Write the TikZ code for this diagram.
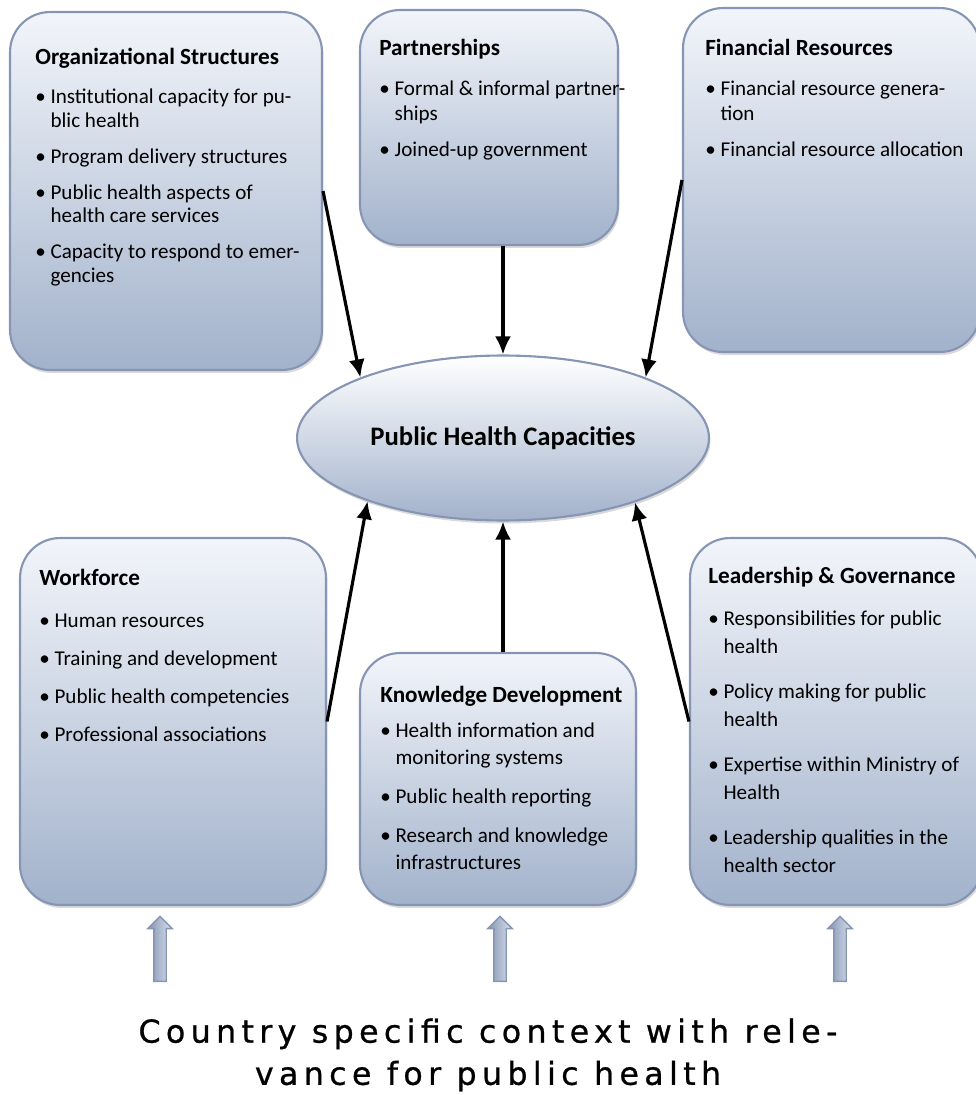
\documentclass[tikz,border=0pt]{standalone}
\usepackage{fontspec}
\setmainfont{Carlito}
\newfontfamily\ctxfont{DejaVu Sans}[LetterSpace=17,FakeBold=0.8]
\usetikzlibrary{arrows.meta,positioning,shapes.geometric,shapes.arrows,shadings,shadows}

\definecolor{boxtop}{HTML}{F2F5FA}
\definecolor{boxmid}{HTML}{D9E1ED}
\definecolor{boxbot}{HTML}{A2B2CB}
\definecolor{boxline}{HTML}{8595B3}

\newcommand{\bu}{\textbullet\ }
\newcommand{\ind}{\hphantom{\textbullet\ }}
\newcommand{\hd}[1]{{\fontsize{13.2}{15}\selectfont\bfseries #1}}

\tikzset{
  capbox/.style={draw=boxline, line width=1.2pt, rounded corners=0.8cm,
    top color=boxtop, middle color=boxmid, bottom color=boxbot,
    drop shadow={opacity=0.3, shadow xshift=0.03cm, shadow yshift=-0.06cm},
    minimum width=#1, inner sep=0pt},
  captxt/.style={anchor=north west, inner sep=0pt, align=left},
  arr/.style={->, line width=1.8pt},
  uparr/.style={single arrow, shape border rotate=90, draw=boxline, line width=0.8pt,
    left color=boxline, middle color=white, right color=boxmid,
    minimum height=1.3cm, inner sep=0pt,
    single arrow head extend=0.12cm, single arrow head indent=0pt}
}

\begin{document}
\begin{tikzpicture}[x=0.02cm,y=-0.02cm,>={Latex[length=0.36cm,width=0.32cm]}]
\clip (0,0) rectangle (976,1095);

% boxes
\node[capbox=6.24cm, minimum height=7.16cm] (org) at (166,191) {};
\node[capbox=5.16cm, minimum height=4.7cm] (part) at (489,127.5) {};
\node[capbox=5.94cm, minimum height=6.88cm] (fin) at (831.5,180) {};
\node[capbox=6.12cm, minimum height=7.34cm] (work) at (173,721.5) {};
\node[capbox=5.52cm, minimum height=5.04cm] (know) at (498,779) {};
\node[capbox=5.84cm, minimum height=7.34cm] (lead) at (836,721.5) {};

% centre
\node[ellipse, draw=boxline, line width=1.2pt, top color=white, middle color=boxmid,
  bottom color=boxbot, minimum width=8.24cm, minimum height=3.3cm, inner sep=0pt,
  drop shadow={opacity=0.3, shadow xshift=0.03cm, shadow yshift=-0.06cm},
  font=\fontsize{15.2}{18}\selectfont\bfseries] (phc) at (503,438) {Public Health Capacities};

% texts
\node[captxt, font=\fontsize{12}{13.5}\selectfont] (orgtxt)
  at ([xshift=0.52cm,yshift=-0.74cm]org.north west)
  {\hd{Organizational Structures}\\[8.5pt]
   \bu Institutional capacity for pu-\\ \ind blic health\\[7pt]
   \bu Program delivery structures\\[7pt]
   \bu Public health aspects of\\ \ind health care services\\[7pt]
   \bu Capacity to respond to emer-\\ \ind gencies};
\node[captxt, font=\fontsize{12}{14.2}\selectfont] (parttxt)
  at ([xshift=0.4cm,yshift=-0.6cm]part.north west)
  {\hd{Partnerships}\\[8.6pt]
   \bu Formal \& informal partner-\\ \ind ships\\[6.3pt]
   \bu Joined-up government};
\node[captxt, font=\fontsize{12}{14.2}\selectfont] (fintxt)
  at ([xshift=0.46cm,yshift=-0.64cm]fin.north west)
  {\hd{Financial Resources}\\[8.6pt]
   \bu Financial resource genera-\\ \ind tion\\[6.3pt]
   \bu Financial resource allocation};
\node[captxt, font=\fontsize{12}{14}\selectfont] (worktxt)
  at ([xshift=0.4cm,yshift=-0.64cm]work.north west)
  {\hd{Workforce}\\[9.9pt]
   \bu Human resources\\[7.6pt]
   \bu Training and development\\[7.6pt]
   \bu Public health competencies\\[7.6pt]
   \bu Professional associations};
\node[captxt, font=\fontsize{12}{15.4}\selectfont] (knowtxt)
  at ([xshift=0.42cm,yshift=-0.68cm]know.north west)
  {\hd{Knowledge Development}\\[4.5pt]
   \bu Health information and\\ \ind monitoring systems\\[6.8pt]
   \bu Public health reporting\\[6.8pt]
   \bu Research and knowledge\\ \ind infrastructures};
\node[captxt, font=\fontsize{12}{15.9}\selectfont] (leadtxt)
  at ([xshift=0.38cm,yshift=-0.6cm]lead.north west)
  {\hd{Leadership \& Governance}\\[7.9pt]
   \bu Responsibilities for public\\ \ind health\\[9.7pt]
   \bu Policy making for public\\ \ind health\\[9.7pt]
   \bu Expertise within Ministry of\\ \ind Health\\[9.7pt]
   \bu Leadership qualities in the\\ \ind health sector};

% arrows to the centre
\draw[arr] (org.east) -- (phc.157);
\draw[arr] (part.south -| phc.north) -- (phc.north);
\draw[arr] (fin.west) -- (phc.23);
\draw[arr] (work.east) -- (phc.205);
\draw[arr] (know.north -| phc.south) -- (phc.south);
\draw[arr] (lead.west) -- (phc.334);

% context
\node[uparr] (up1) at (160,952) {\rule{0.22cm}{0pt}\rule{0pt}{0.22cm}};
\node[uparr] (up2) at (500,952) {\rule{0.22cm}{0pt}\rule{0pt}{0.22cm}};
\node[uparr] (up3) at (840,952) {\rule{0.22cm}{0pt}\rule{0pt}{0.22cm}};
\node[align=center, font=\ctxfont\fontsize{18}{24}\selectfont] (ctx) at (488,1055)
  {Country specific context with rele-\\vance for public health};
\end{tikzpicture}
\end{document}
